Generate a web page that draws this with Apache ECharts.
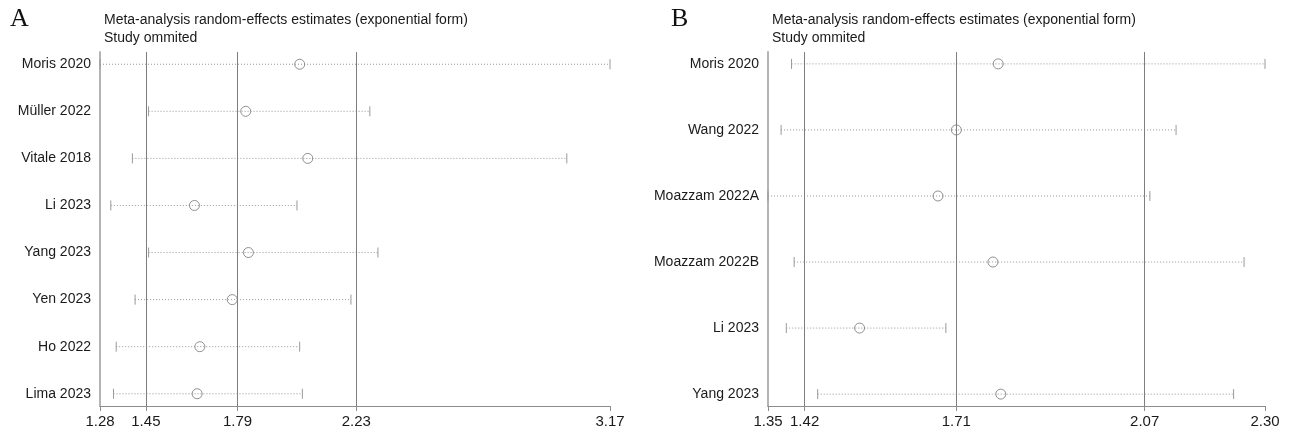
<!DOCTYPE html>
<html>
<head>
<meta charset="utf-8">
<script src="https://cdn.jsdelivr.net/npm/echarts@6/dist/echarts.min.js"></script>
<style>
  html, body { margin: 0; padding: 0; background: #fff; }
  #chart { width: 1295px; height: 432px; }
</style>
</head>
<body>
<div id="chart"></div>
<script>
// Panel A: influence of each omitted study (random-effects, exponential form)
const studiesA = ['Moris 2020', 'Müller 2022', 'Vitale 2018', 'Li 2023', 'Yang 2023', 'Yen 2023', 'Ho 2022', 'Lima 2023'];
const estA  = [2.02, 1.82, 2.05, 1.63, 1.83, 1.77, 1.65, 1.64];
const lowA  = [1.28, 1.46, 1.40, 1.32, 1.46, 1.41, 1.34, 1.33];
const highA = [3.17, 2.28, 3.01, 2.01, 2.31, 2.21, 2.02, 2.03];
const ticksA = [1.28, 1.45, 1.79, 2.23, 3.17];
const refA = [1.45, 1.79, 2.23];

// Panel B
const studiesB = ['Moris 2020', 'Wang 2022', 'Moazzam 2022A', 'Moazzam 2022B', 'Li 2023', 'Yang 2023'];
const estB  = [1.79, 1.71, 1.675, 1.78, 1.525, 1.795];
const lowB  = [1.395, 1.375, 1.35, 1.40, 1.385, 1.445];
const highB = [2.30, 2.13, 2.08, 2.26, 1.69, 2.24];
const ticksB = [1.35, 1.42, 1.71, 2.07, 2.30];
const refB = [1.42, 1.71, 2.07];

const TEXT = '#1a1a1a';
const FONT = 'Liberation Sans, Arial, sans-serif';

function ciRender(params, api) {
  const y = api.value(2);
  const a = api.coord([api.value(0), y]);
  const b = api.coord([api.value(1), y]);
  const h = 5;
  const st = { stroke: '#9a9a9a', lineWidth: 1 };
  return {
    type: 'group',
    children: [
      { type: 'line', shape: { x1: a[0], y1: a[1], x2: b[0], y2: b[1] },
        style: { stroke: '#959595', lineWidth: 1, lineDash: [1, 2] } },
      { type: 'line', shape: { x1: a[0], y1: a[1] - h, x2: a[0], y2: a[1] + h }, style: st },
      { type: 'line', shape: { x1: b[0], y1: b[1] - h, x2: b[0], y2: b[1] + h }, style: st }
    ]
  };
}

function panel(idx, names, est, low, high, ticks, refs, pad) {
  const n = names.length;
  const xAxis = {
    type: 'value', gridIndex: idx,
    min: ticks[0], max: ticks[ticks.length - 1],
    splitLine: { show: false },
    axisLine: { show: true, onZero: false, lineStyle: { color: '#8c8c8c', width: 1 } },
    axisTick: { show: true, customValues: ticks, length: 5, lineStyle: { color: '#8c8c8c' } },
    axisLabel: { customValues: ticks, color: TEXT, fontSize: 15, fontFamily: FONT, margin: 8,
                 formatter: v => v.toFixed(2) }
  };
  const yAxis = {
    type: 'value', gridIndex: idx, inverse: true,
    min: -pad, max: n - 1 + pad,
    splitLine: { show: false },
    axisLine: { show: true, onZero: false, lineStyle: { color: '#b4b4b4', width: 2 } },
    axisTick: { show: false },
    axisLabel: { customValues: names.map((_, i) => i), color: TEXT, fontSize: 14, fontFamily: FONT, margin: 9,
                 formatter: v => names[Math.round(v)] || '' }
  };
  const series = [
    {
      type: 'custom', xAxisIndex: idx, yAxisIndex: idx,
      renderItem: ciRender,
      encode: { x: [0, 1], y: 2 },
      data: names.map((_, i) => [low[i], high[i], i]),
      silent: true, z: 2
    },
    {
      type: 'scatter', xAxisIndex: idx, yAxisIndex: idx,
      symbol: 'circle', symbolSize: 10,
      itemStyle: { color: 'rgba(0,0,0,0)', borderColor: '#767676', borderWidth: 1 },
      data: names.map((_, i) => [est[i], i]),
      silent: true, z: 4,
      markLine: {
        silent: true, symbol: 'none', animation: false,
        label: { show: false },
        lineStyle: { color: '#7d7d7d', width: 1, type: 'solid' },
        data: refs.map(v => ({ xAxis: v }))
      }
    }
  ];
  return { xAxis, yAxis, series };
}

const pA = panel(0, studiesA, estA, lowA, highA, ticksA, refA, 0.26);
const pB = panel(1, studiesB, estB, lowB, highB, ticksB, refB, 0.18);

const chart = echarts.init(document.getElementById('chart'), null, { renderer: 'canvas' });
chart.setOption({
  animation: false,
  backgroundColor: '#fff',
  grid: [
    { left: 100, top: 52, width: 510, height: 354, containLabel: false, outerBoundsMode: 'none' },
    { left: 768, top: 52, width: 497, height: 354, containLabel: false, outerBoundsMode: 'none' }
  ],
  xAxis: [pA.xAxis, pB.xAxis],
  yAxis: [pA.yAxis, pB.yAxis],
  series: [...pA.series, ...pB.series],
  graphic: [
    { type: 'text', left: 10, top: 6, style: { text: 'A', font: '26px "Liberation Serif", "Times New Roman", serif', fill: '#111' } },
    { type: 'text', left: 671, top: 6, style: { text: 'B', font: '26px "Liberation Serif", "Times New Roman", serif', fill: '#111' } },
    { type: 'text', left: 104, top: 11, style: { text: 'Meta-analysis random-effects estimates (exponential form)\nStudy ommited',
        font: '14px ' + FONT, fill: TEXT, lineHeight: 18 } },
    { type: 'text', left: 772, top: 11, style: { text: 'Meta-analysis random-effects estimates (exponential form)\nStudy ommited',
        font: '14px ' + FONT, fill: TEXT, lineHeight: 18 } }
  ]
});
</script>
</body>
</html>
